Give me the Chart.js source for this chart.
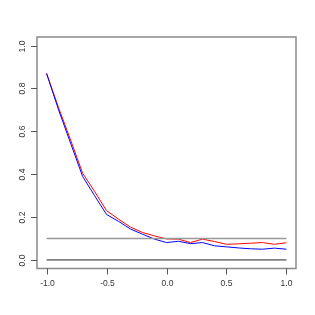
<!DOCTYPE html>
<html>
<head>
<meta charset="utf-8">
<script src="https://cdn.jsdelivr.net/npm/chart.js@4"></script>
<style>
    html, body { margin: 0; padding: 0; background: #ffffff; }
    #wrap { width: 315px; height: 315px; }
</style>
</head>
<body>
<div id="wrap"><canvas id="curveChart" width="315" height="315"></canvas></div>
<script>
// x grid shared by both series
const xValues = [-1.0, -0.9, -0.8, -0.7, -0.6, -0.5, -0.4, -0.3, -0.2, -0.1, 0.0,
                 0.1, 0.2, 0.3, 0.4, 0.5, 0.6, 0.7, 0.8, 0.9, 1.0];
const redValues = [0.87, 0.71, 0.56, 0.405, 0.32, 0.23, 0.19, 0.153, 0.128, 0.112, 0.098,
                   0.097, 0.081, 0.097, 0.086, 0.073, 0.075, 0.078, 0.081, 0.073, 0.08];
const blueValues = [0.87, 0.70, 0.545, 0.39, 0.30, 0.212, 0.18, 0.144, 0.12, 0.097, 0.081,
                    0.087, 0.076, 0.081, 0.066, 0.061, 0.056, 0.052, 0.05, 0.055, 0.05];
const refLevels = [0.1, 0.0];
const xTicks = [-1.0, -0.5, 0.0, 0.5, 1.0];
const yTicks = [0.0, 0.2, 0.4, 0.6, 0.8, 1.0];

const toPoints = (ys) => xValues.map((x, i) => ({ x: x, y: ys[i] }));
const hLine = (v) => [{ x: xValues[0], y: v }, { x: xValues[xValues.length - 1], y: v }];

// R-style box, ticks and labels, drawn from the chart's own scales
const rAxes = {
    id: 'rAxes',
    afterDraw(chart) {
        const { ctx, chartArea, scales } = chart;
        const xs = scales.x, ys = scales.y;
        ctx.save();
        ctx.strokeStyle = '#8a8a8a';
        ctx.lineWidth = 1.5;
        ctx.strokeRect(chartArea.left, chartArea.top,
            chartArea.right - chartArea.left, chartArea.bottom - chartArea.top);

        ctx.strokeStyle = '#555';
        ctx.lineWidth = 1;
        ctx.fillStyle = '#333';
        ctx.font = '8.5px "Liberation Sans", Arial, sans-serif';

        ctx.textAlign = 'center';
        ctx.textBaseline = 'middle';
        xTicks.forEach((t) => {
            const px = Math.round(xs.getPixelForValue(t)) + 0.5;
            ctx.beginPath();
            ctx.moveTo(px, chartArea.bottom);
            ctx.lineTo(px, chartArea.bottom + 6);
            ctx.stroke();
            ctx.fillText(t.toFixed(1), px, chartArea.bottom + 15);
        });

        yTicks.forEach((t) => {
            const py = Math.round(ys.getPixelForValue(t)) + 0.5;
            ctx.beginPath();
            ctx.moveTo(chartArea.left, py);
            ctx.lineTo(chartArea.left - 6, py);
            ctx.stroke();
            ctx.save();
            ctx.translate(chartArea.left - 14, py);
            ctx.rotate(-Math.PI / 2);
            ctx.fillText(t.toFixed(1), 0, 0);
            ctx.restore();
        });
        ctx.restore();
    }
};

new Chart(document.getElementById('curveChart').getContext('2d'), {
    type: 'line',
    data: {
        datasets: [
            {
                data: hLine(refLevels[0]),
                borderColor: '#999999',
                borderWidth: 1.5,
                pointRadius: 0
            },
            {
                data: hLine(refLevels[1]),
                borderColor: '#222222',
                borderWidth: 1,
                pointRadius: 0
            },
            {
                data: toPoints(blueValues),
                borderColor: '#0000ff',
                borderWidth: 1,
                pointRadius: 0,
                tension: 0
            },
            {
                data: toPoints(redValues),
                borderColor: '#ff0000',
                borderWidth: 1,
                pointRadius: 0,
                tension: 0
            }
        ]
    },
    options: {
        responsive: false,
        animation: false,
        layout: { padding: { left: 37, top: 37, right: 19, bottom: 46.5 } },
        scales: {
            x: { type: 'linear', min: -1.08, max: 1.08, display: false },
            y: { type: 'linear', min: -0.04, max: 1.04, display: false }
        },
        plugins: {
            legend: { display: false },
            tooltip: { enabled: false }
        }
    },
    plugins: [rAxes]
});
</script>
</body>
</html>
